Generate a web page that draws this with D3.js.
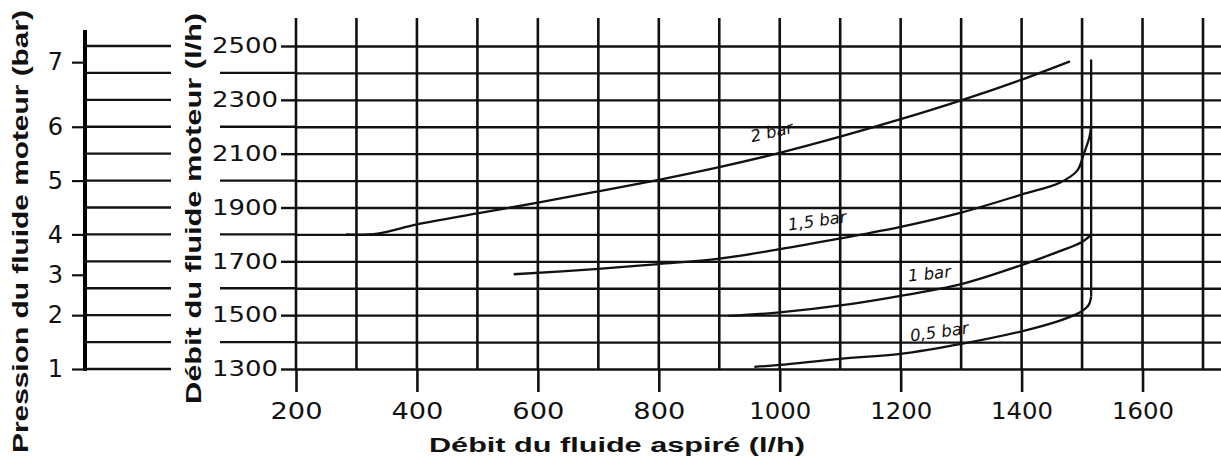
<!DOCTYPE html>
<html>
<head>
<meta charset="utf-8">
<script src="https://cdn.jsdelivr.net/npm/d3@7"></script>
<style>
  html, body { margin: 0; padding: 0; background: #fff; }
  svg { display: block; }
</style>
</head>
<body>
<svg id="chart" width="1221" height="458"></svg>
<script>
// ---- data ----
const xTickValues = [200, 400, 600, 800, 1000, 1200, 1400, 1600];
const xGridValues = [200, 300, 400, 500, 600, 700, 800, 900, 1000, 1100, 1200, 1300, 1400, 1500, 1600, 1700];
const yTickValues = [1300, 1500, 1700, 1900, 2100, 2300, 2500];
const yGridValues = [1300, 1400, 1500, 1600, 1700, 1800, 1900, 2000, 2100, 2200, 2300, 2400, 2500];
const pressureTicks = [1, 2, 3, 4, 5, 6, 7];
const pressureFlow = [1300, 1500, 1650, 1800, 2000, 2200, 2440];

const curve2bar = [[283,1800],[335,1803],[400,1837],[500,1878],[600,1918],[700,1960],[800,2003],[900,2050],[1000,2103],[1100,2163],[1200,2228],[1300,2298],[1400,2375],[1480,2443]];
const curve15bar = [[560,1652],[700,1672],[800,1690],[900,1710],[1000,1745],[1100,1785],[1200,1828],[1300,1881],[1400,1948],[1463,1992],[1492,2037],[1503,2100],[1512,2160],[1515,2200]];
const curve1bar = [[915,1497],[1000,1510],[1100,1536],[1200,1572],[1300,1615],[1400,1686],[1461,1736],[1500,1772],[1515,1798]];
const curve05bar = [[958,1308],[1000,1315],[1100,1338],[1200,1356],[1300,1393],[1400,1440],[1461,1478],[1487,1500],[1500,1515],[1511,1538],[1515,1570]];
const limitLine = [[1515,1570],[1515,2450]];

const curveLabels = ["2 bar", "1,5 bar", "1 bar", "0,5 bar"];

// ---- drawing ----
const svg = d3.select("#chart");
const W = 1221;
const x = d3.scaleLinear().domain([200, 1700]).range([296, 1203]);
const y = d3.scaleLinear().domain([1300, 2500]).range([369, 46]);
const pScale = d3.scaleLinear().domain(pressureTicks).range(pressureFlow.map(v => y(v)));

const ink = "#111";
const numFont = "'DejaVu Sans', sans-serif";

// left panel vertical bar
svg.append("rect")
  .attr("x", 83).attr("y", 30).attr("width", 4).attr("height", 341)
  .style("fill", "#000");

// vertical grid lines
svg.append("g").selectAll("line").data(xGridValues).join("line")
  .attr("x1", d => x(d)).attr("x2", d => x(d))
  .attr("y1", 18).attr("y2", y(1300))
  .attr("stroke", ink).attr("stroke-width", 2.6);

// horizontal grid lines (main area)
const gGrid = svg.append("g").attr("transform", `translate(${x(200)},0)`)
  .call(d3.axisLeft(y).tickValues(yGridValues).tickSize(-(W - x(200))).tickFormat(""));
gGrid.select(".domain").remove();
gGrid.selectAll(".tick line").attr("stroke", ink).attr("stroke-width", 2.4);

// unlabeled row extensions
svg.append("g").selectAll("line").data(yGridValues.filter(v => !yTickValues.includes(v))).join("line")
  .attr("x1", 220).attr("x2", x(200))
  .attr("y1", d => y(d)).attr("y2", d => y(d))
  .attr("stroke", ink).attr("stroke-width", 2.4);

// left panel rows
svg.append("g").selectAll("line").data(yGridValues).join("line")
  .attr("x1", 85).attr("x2", 171)
  .attr("y1", d => y(d)).attr("y2", d => y(d))
  .attr("stroke", ink).attr("stroke-width", 2.4);

// flow (motor) axis
const gY = svg.append("g").attr("transform", `translate(${x(200)},0)`)
  .call(d3.axisLeft(y).tickValues(yTickValues).tickSize(15).tickPadding(3).tickFormat(d3.format("d")));
gY.select(".domain").remove();
gY.selectAll(".tick line").attr("stroke", ink).attr("stroke-width", 2.4);
gY.selectAll(".tick text").attr("font-family", numFont).attr("font-size", 21)
  .attr("fill", ink).attr("textLength", 66).attr("lengthAdjust", "spacingAndGlyphs");

// pressure axis
const gP = svg.append("g").attr("transform", "translate(85,0)")
  .call(d3.axisLeft(pScale).tickValues(pressureTicks).tickSize(13).tickPadding(9).tickFormat(d3.format("d")));
gP.select(".domain").remove();
gP.selectAll(".tick line").attr("stroke", ink).attr("stroke-width", 2.2);
gP.selectAll(".tick text").attr("font-family", numFont).attr("font-size", 24).attr("fill", ink);

// x axis
const gX = svg.append("g").attr("transform", `translate(0,${y(1300)})`)
  .call(d3.axisBottom(x).tickValues(xTickValues).tickSize(23).tickPadding(11).tickFormat(d3.format("d")));
gX.select(".domain").remove();
gX.selectAll(".tick line").attr("stroke", ink).attr("stroke-width", 2.6);
gX.selectAll(".tick text").attr("font-family", numFont).attr("font-size", 23).attr("fill", ink)
  .attr("textLength", d => String(d).length === 3 ? 52 : 62).attr("lengthAdjust", "spacingAndGlyphs");

// curves
const line = d3.line().x(d => x(d[0])).y(d => y(d[1])).curve(d3.curveCatmullRom.alpha(0.5));
[curve2bar, curve15bar, curve1bar, curve05bar].forEach(c => {
  svg.append("path").datum(c).attr("d", line)
    .attr("fill", "none").attr("stroke", ink).attr("stroke-width", 2.3);
});
svg.append("path").datum(limitLine).attr("d", d3.line().x(d => x(d[0])).y(d => y(d[1])))
  .attr("fill", "none").attr("stroke", ink).attr("stroke-width", 2.3);

// curve labels
const labelAnchors = [[954, 2142, -13], [1015, 1815, -8], [1213, 1625, -6], [1217, 1402, -8]];
curveLabels.forEach((t, i) => {
  const [ax, ay, r] = labelAnchors[i];
  svg.append("text").attr("transform", `translate(${x(ax)},${y(ay)}) rotate(${r})`)
    .attr("font-family", numFont).attr("font-style", "italic").attr("font-size", 16.5)
    .attr("fill", ink).text(t);
});

// axis titles
const titleFont = "'Liberation Sans', Arial, sans-serif";
svg.append("text").attr("transform", "translate(28,453) rotate(-90)")
  .attr("font-family", titleFont).attr("font-weight", "bold").attr("font-size", 22)
  .attr("fill", ink).attr("textLength", 443).attr("lengthAdjust", "spacingAndGlyphs")
  .text("Pression du fluide moteur (bar)");
svg.append("text").attr("transform", "translate(201,404) rotate(-90)")
  .attr("font-family", titleFont).attr("font-weight", "bold").attr("font-size", 22)
  .attr("fill", ink).attr("textLength", 391).attr("lengthAdjust", "spacingAndGlyphs")
  .text("Débit du fluide moteur (l/h)");
svg.append("text").attr("x", 429).attr("y", 452)
  .attr("font-family", titleFont).attr("font-weight", "bold").attr("font-size", 20)
  .attr("fill", ink).attr("textLength", 376).attr("lengthAdjust", "spacingAndGlyphs")
  .text("Débit du fluide aspiré (l/h)");
</script>
</body>
</html>
